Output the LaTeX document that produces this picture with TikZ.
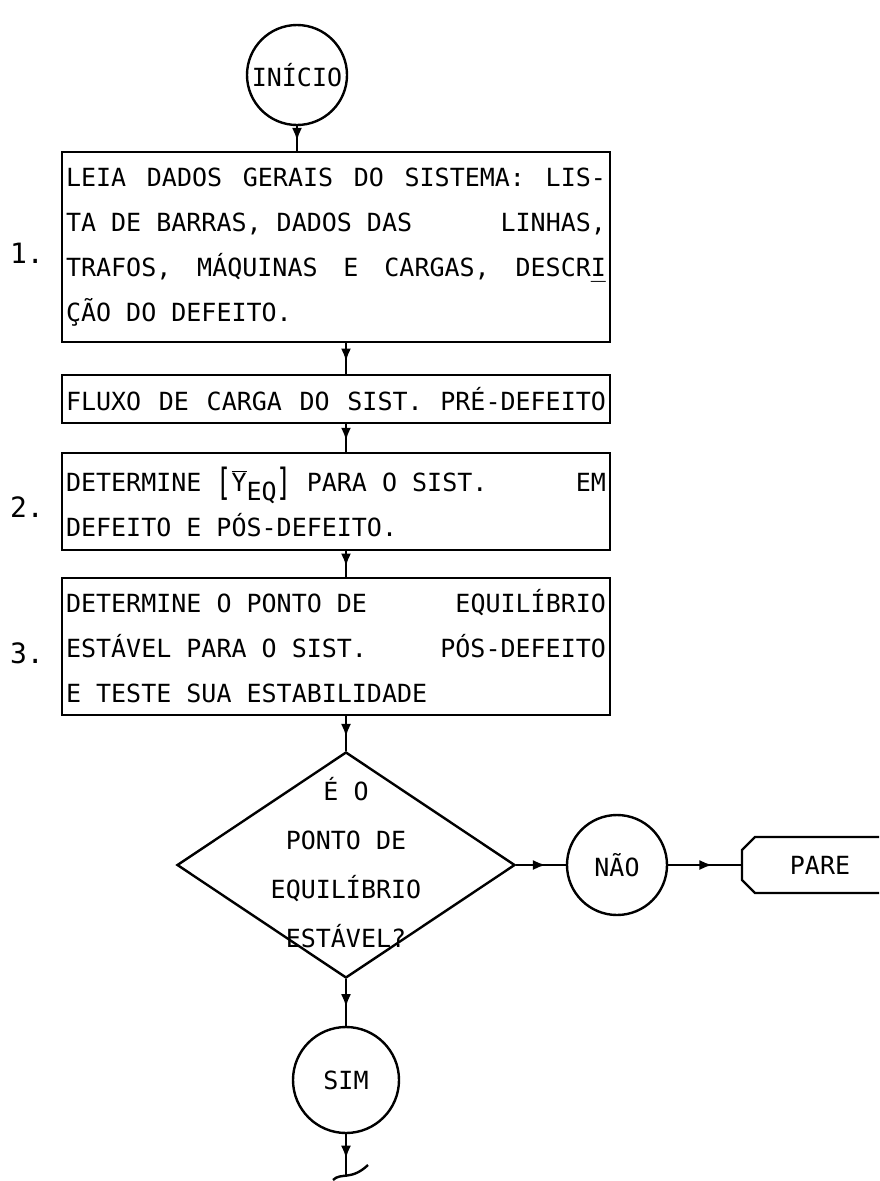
\documentclass[tikz,border=0pt]{standalone}
\usepackage{fontspec}
\setmonofont{DejaVu Sans Mono}
\usepackage{graphicx}
\usetikzlibrary{shapes.geometric,arrows.meta,decorations.markings}

\newlength\boxw
\setlength\boxw{540pt}
% fonte de maquina de escrever, espaco com largura de um caractere
\newcommand\fonte{\ttfamily\fontsize{25}{45}\selectfont\spaceskip=15.05pt\relax}
\newcommand\fontelos{\ttfamily\fontsize{25}{49}\selectfont\spaceskip=15.05pt\relax}
\newcommand\fontenum{\ttfamily\fontsize{28}{45}\selectfont}
% linha justificada (espacos esticam)
\newcommand\jline[1]{\leavevmode\hbox to \boxw{\spaceskip=15.05pt plus 25pt\relax #1}}
\newcommand\ymatriz{\raisebox{-4pt}{\scalebox{1}[1.5]{[}}$\overline{\mbox{Y}}$\raisebox{-9pt}{EQ}\raisebox{-4pt}{\scalebox{1}[1.5]{]}}}

\begin{document}
\begin{tikzpicture}[x=1pt, y=-1pt, line width=2.4pt,
  every node/.style={font=\fonte},
  passo/.style={draw, text width=\boxw, inner xsep=4pt, inner ysep=0pt, align=left},
  circ/.style={draw, circle, minimum size=100pt, inner sep=1pt},
  decisao/.style={draw, diamond, minimum width=338pt, minimum height=226pt, inner sep=0pt},
  seta/.style={postaction={decorate}, decoration={markings,
      mark=at position 0.6 with {\arrow{Latex[length=13pt,width=10pt]}}}}]
  \useasboundingbox (0,0) rectangle (879,1181);
  \coordinate (eixo) at (346,0);

  \node[circ] (inicio) at (297,75) {INÍCIO};

  \node[passo, minimum height=190pt] (leia) at (336,247) {%
    \jline{LEIA DADOS GERAIS DO SISTEMA: LIS-}\\
    \jline{TA DE BARRAS, DADOS DAS\hfill LINHAS,}\\
    \jline{TRAFOS, MÁQUINAS E CARGAS, DESCRI\llap{\_}}\\
    \jline{ÇÃO DO DEFEITO.\hfill}};
  \node[passo, minimum height=48pt] (fluxo) at (336,399) {%
    \jline{FLUXO DE CARGA DO SIST. PRÉ-DEFEITO}};
  \node[passo, minimum height=97pt] (ybarra) at (336,501.5) {%
    \jline{DETERMINE \ymatriz\ PARA O SIST.\hfill EM}\\
    \jline{DEFEITO E PÓS-DEFEITO.\hfill}};
  \node[passo, minimum height=137pt] (equil) at (336,646.5) {%
    \jline{DETERMINE O PONTO DE\hfill EQUILÍBRIO}\\
    \jline{ESTÁVEL PARA O SIST.\hfill PÓS-DEFEITO}\\
    \jline{E TESTE SUA ESTABILIDADE\hfill}};

  \node[font=\fontenum] (n1) at (27,253) {1.};
  \node[font=\fontenum] (n2) at (27,507) {2.};
  \node[font=\fontenum] (n3) at (27,653) {3.};

  \node[decisao] (teste) at (346,865) {};
  \node[align=center, font=\fontelos] (testetxt) at (346,863)
    {É O\\PONTO DE\\EQUILÍBRIO\\ESTÁVEL?};

  \node[circ] (nao) at (617,865) {NÃO};
  \node (pare) at (820,865) {PARE};
  \coordinate (pareW) at (742,865);
  \draw (879,837) -- (755,837) -- (742,850) -- (742,880) -- (755,893) -- (879,893);

  \node[circ, minimum size=106pt] (sim) at (346,1080) {SIM};
  \coordinate (fim) at (346,1175);

  \draw[seta] (inicio.south) -- (inicio.south |- leia.north);
  \draw[seta] (leia.south -| eixo) -- (fluxo.north -| eixo);
  \draw[seta] (fluxo.south -| eixo) -- (ybarra.north -| eixo);
  \draw[seta] (ybarra.south -| eixo) -- (equil.north -| eixo);
  \draw[seta] (equil.south -| eixo) -- (teste.north);
  \draw[seta] (teste.east) -- (nao.west);
  \draw[seta] (nao.east) -- (pareW);
  \draw[seta] (teste.south) -- (sim.north);
  \draw[seta] (sim.south) -- (fim);
  \draw (333,1180) .. controls (341,1172) and (351,1181) .. (368,1165);
\end{tikzpicture}
\end{document}
